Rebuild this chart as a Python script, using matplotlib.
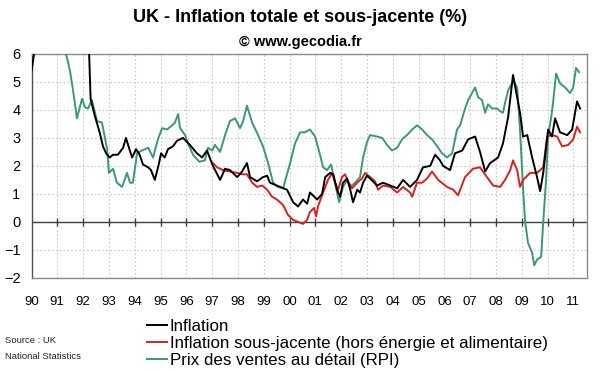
import numpy as np
import matplotlib
matplotlib.use("Agg")
import matplotlib.pyplot as plt

plt.rcParams['font.family'] = ['Liberation Sans', 'DejaVu Sans']

# --- data (decimal years, % y/y) ---
cpi_t = [1990.0, 1990.15, 1990.5, 1990.9, 1991.3, 1991.7, 1992.0, 1992.23,
         1992.29, 1992.45, 1992.64, 1992.77, 1992.89, 1993.03, 1993.16, 1993.35,
         1993.55, 1993.66, 1993.81, 1993.9, 1994.05, 1994.19, 1994.32, 1994.52,
         1994.63, 1994.78, 1994.93, 1995.02, 1995.16, 1995.29, 1995.48, 1995.64,
         1995.87, 1996.14, 1996.41, 1996.61, 1996.8, 1997.03, 1997.31, 1997.5,
         1997.69, 1997.97, 1998.16, 1998.35, 1998.47, 1998.74, 1998.97, 1999.13,
         1999.24, 1999.63, 1999.9, 2000.14, 2000.33, 2000.52, 2000.68, 2000.79,
         2001.07, 2001.26, 2001.38, 2001.57, 2001.69, 2001.84, 2001.96, 2002.07,
         2002.23, 2002.34, 2002.46, 2002.62, 2002.73, 2002.85, 2003.0, 2003.12,
         2003.39, 2003.62, 2003.9, 2004.17, 2004.4, 2004.67, 2004.94, 2005.17,
         2005.45, 2005.64, 2005.83, 2005.95, 2006.22, 2006.41, 2006.69, 2006.92,
         2007.19, 2007.38, 2007.58, 2007.77, 2008.08, 2008.27, 2008.47, 2008.66,
         2008.93, 2009.05, 2009.21, 2009.4, 2009.59, 2009.71, 2009.83, 2010.02,
         2010.17, 2010.29, 2010.48, 2010.76, 2010.95, 2011.14, 2011.26]
cpi = [5.4, 6.3, 7.2, 7.8, 7.4, 6.9, 6.6, 6.1,
       4.4, 3.8, 3.2, 2.7, 2.45, 2.3, 2.4, 2.4,
       2.65, 3.0, 2.55, 2.3, 2.6, 2.4, 2.05, 1.95,
       1.85, 1.5, 2.05, 2.45, 2.3, 2.6, 2.7, 2.9,
       3.0, 2.75, 2.45, 2.3, 2.55, 2.0, 1.5, 1.9,
       1.85, 1.6, 1.8, 2.1, 1.6, 1.45, 1.6, 1.65,
       1.4, 1.25, 1.15, 0.7, 0.55, 0.8, 0.65, 1.05,
       0.8, 1.0, 1.6, 1.75, 1.7, 1.15, 0.9, 1.4,
       1.55, 1.2, 0.7, 1.15, 1.05, 1.4, 1.65, 1.55,
       1.3, 1.4, 1.3, 1.2, 1.5, 1.25, 1.5, 1.95,
       2.0, 2.4, 2.2, 2.0, 1.85, 2.45, 2.55, 2.95,
       3.05, 2.5, 1.8, 2.1, 2.3, 2.8, 3.75, 5.25,
       3.9, 3.05, 3.1, 2.3, 1.6, 1.1, 1.75, 3.3,
       3.05, 3.7, 3.2, 3.1, 3.3, 4.3, 4.05]

core_t = [1997.03, 1997.19, 1997.42, 1997.69, 1997.97, 1998.16, 1998.35, 1998.55,
          1998.74, 1998.94, 1999.13, 1999.32, 1999.51, 1999.75, 1999.94, 2000.14,
          2000.33, 2000.52, 2000.68, 2000.79, 2000.95, 2001.03, 2001.1, 2001.3,
          2001.49, 2001.65, 2001.76, 2001.88, 2002.03, 2002.15, 2002.27, 2002.42,
          2002.62, 2002.81, 2002.93, 2003.12, 2003.31, 2003.43, 2003.62, 2003.9,
          2004.17, 2004.4, 2004.67, 2004.75, 2004.94, 2005.14, 2005.33, 2005.52,
          2005.76, 2006.1, 2006.34, 2006.53, 2006.8, 2007.11, 2007.38, 2007.65,
          2007.89, 2008.16, 2008.35, 2008.55, 2008.66, 2008.82, 2008.93, 2009.05,
          2009.32, 2009.59, 2009.83, 2009.98, 2010.17, 2010.37, 2010.56, 2010.8,
          2010.99, 2011.14, 2011.26]
core = [2.1, 1.95, 1.85, 1.8, 1.75, 1.7, 1.7, 1.4,
        1.25, 1.3, 1.15, 0.9, 0.8, 0.6, 0.25, 0.07,
        0.0, -0.07, 0.07, 0.35, 0.5, 0.2, 0.55, 1.05,
        1.5, 1.75, 1.4, 1.15, 1.6, 1.7, 1.45, 1.2,
        1.4, 1.55, 1.75, 1.6, 1.45, 1.15, 1.3, 1.25,
        1.05, 1.25, 1.05, 0.9, 1.4, 1.4, 1.55, 1.8,
        1.5, 1.25, 1.15, 0.95, 1.6, 1.9, 1.95, 1.6,
        1.3, 1.25, 1.5, 1.85, 2.2, 1.85, 1.25, 1.5,
        1.75, 1.75, 1.95, 3.05, 3.1, 3.05, 2.7, 2.75,
        2.95, 3.4, 3.2]

rpi_t = [1990.0, 1990.4, 1990.8, 1991.0, 1991.2, 1991.33, 1991.38, 1991.49,
         1991.61, 1991.76, 1991.96, 1992.07, 1992.19, 1992.34, 1992.54, 1992.73,
         1992.93, 1993.0, 1993.16, 1993.31, 1993.51, 1993.7, 1993.82, 1993.93,
         1994.09, 1994.28, 1994.52, 1994.71, 1994.9, 1995.06, 1995.25, 1995.45,
         1995.56, 1995.68, 1995.76, 1995.95, 1996.07, 1996.26, 1996.5, 1996.72,
         1996.84, 1997.0, 1997.11, 1997.31, 1997.5, 1997.69, 1997.89, 1998.08,
         1998.2, 1998.35, 1998.55, 1998.78, 1998.97, 1999.17, 1999.36, 1999.55,
         1999.75, 2000.02, 2000.21, 2000.41, 2000.6, 2000.79, 2000.99, 2001.18,
         2001.3, 2001.45, 2001.61, 2001.76, 2001.92, 2002.07, 2002.23, 2002.34,
         2002.54, 2002.73, 2002.85, 2003.0, 2003.12, 2003.39, 2003.59, 2003.78,
         2003.97, 2004.17, 2004.36, 2004.55, 2004.75, 2004.94, 2005.14, 2005.33,
         2005.52, 2005.72, 2005.91, 2006.1, 2006.3, 2006.49, 2006.61, 2006.8,
         2006.92, 2007.07, 2007.19, 2007.31, 2007.46, 2007.58, 2007.69, 2007.85,
         2008.04, 2008.16, 2008.27, 2008.35, 2008.47, 2008.62, 2008.7, 2008.82,
         2008.93, 2009.05, 2009.13, 2009.24, 2009.4, 2009.48, 2009.59, 2009.75,
         2009.83, 2009.94, 2010.02, 2010.14, 2010.21, 2010.33, 2010.48, 2010.68,
         2010.87, 2010.99, 2011.1, 2011.22]
rpi = [8.0, 9.5, 10.5, 9.0, 6.8, 6.0, 5.85, 5.4,
       4.7, 3.7, 4.4, 4.1, 4.05, 4.35, 3.6, 3.55,
       2.6, 1.75, 1.9, 1.4, 1.25, 1.75, 1.4, 1.4,
       2.45, 2.55, 2.65, 2.3, 2.95, 3.35, 3.3, 3.45,
       3.55, 3.85, 3.35, 3.1, 2.8, 2.4, 2.15, 2.2,
       2.65, 2.55, 2.75, 2.5, 3.1, 3.6, 3.7, 3.35,
       3.6, 4.15, 3.55, 3.1, 2.7, 2.1, 1.4, 1.25,
       1.2, 2.1, 2.8, 3.2, 3.2, 3.3, 3.05, 2.4,
       1.95, 1.85, 2.05, 1.4, 0.7, 1.25, 1.5, 1.25,
       1.4, 1.6, 2.3, 2.85, 3.1, 3.05, 3.0, 2.75,
       2.55, 2.65, 2.95, 3.1, 3.3, 3.45, 3.3, 3.1,
       2.95, 2.7, 2.45, 2.3, 2.45, 3.3, 3.45, 4.05,
       4.35, 4.6, 4.8, 4.45, 4.35, 3.9, 4.2, 4.05,
       4.05, 3.95, 3.9, 4.25, 4.7, 4.95, 5.0, 4.8,
       3.3, 1.15, 0.0, -0.75, -1.1, -1.55, -1.35, -1.25,
       0.0, 1.5, 3.05, 3.75, 4.25, 5.3, 4.95, 4.8,
       4.6, 4.8, 5.5, 5.35]

years = list(range(1990, 2012))
year_labels = ['%02d' % (y % 100) for y in years]

fig = plt.figure(figsize=(6, 3.72), dpi=100)
ax = fig.add_axes([0.0525, 0.253, 0.926, 0.602])

ax.plot(cpi_t, cpi, color='black', lw=1.4, label='Inflation', zorder=5)
ax.plot(core_t, core, color='#d92020', lw=1.4,
        label='Inflation sous-jacente (hors énergie et alimentaire)', zorder=4)
ax.plot(rpi_t, rpi, color='#3a9970', lw=1.4,
        label='Prix des ventes au détail (RPI)', zorder=3)

ax.set_xlim(1990, 2011.53)
ax.set_ylim(-2, 6)
ax.set_yticks(range(-2, 7))
ax.set_xticks(years)
ax.set_xticklabels(year_labels)
ax.set_axisbelow(True)
ax.grid(True, color='#c8c8c8', linestyle=(0, (1.5, 2)), lw=0.8, zorder=0)
ax.tick_params(axis='x', length=0, pad=13, labelsize=9.5)
ax.tick_params(axis='y', length=0, pad=8, labelsize=10.5)

# zero line with year ticks on it
ax.axhline(0, color='#404040', lw=1, zorder=2)
ax.vlines(years[1:], -0.13, 0.13, color='#404040', lw=1, zorder=2)

for s in ax.spines.values():
    s.set_color('#8a8a8a')
    s.set_linewidth(1)
ax.spines['left'].set_color('#505050')

fig.text(0.5, 0.952, 'UK - Inflation totale et sous-jacente (%)', ha='center', va='center',
         fontsize=13, fontweight='bold')
fig.text(0.5, 0.887, '© www.gecodia.fr', ha='center', va='center',
         fontsize=10.5, fontweight='bold')

fig.legend(loc='upper left', bbox_to_anchor=(0.245, 0.142), frameon=False,
           fontsize=12.2, handlelength=1.2, handletextpad=0.15, labelspacing=0.12,
           borderaxespad=0, borderpad=0)

fig.text(0.008, 0.086, 'Source : UK', fontsize=6.8, va='center', color='#222222')
fig.text(0.008, 0.043, 'National Statistics', fontsize=6.8, va='center', color='#222222')

fig.savefig('out.png', dpi=100)
